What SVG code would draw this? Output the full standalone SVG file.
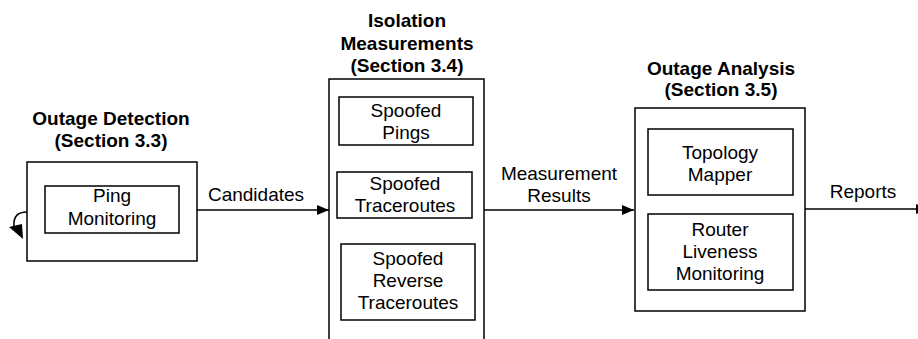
<svg xmlns="http://www.w3.org/2000/svg" width="918" height="339" viewBox="0 0 918 339">
<defs>
<marker id="ah" markerWidth="12" markerHeight="10" refX="12" refY="5" orient="auto" markerUnits="userSpaceOnUse">
<path d="M0,0 L12,5 L0,10 Z" fill="#000"/>
</marker>
<style>
.box{fill:#fff;stroke:#000;stroke-width:1.5}
.t{font-family:"Liberation Sans",Arial,sans-serif;font-size:19px;fill:#000;text-anchor:middle}
.b{font-weight:bold}
.c{fill:none;stroke:#000;stroke-width:1.5}
</style>
</defs>
<rect width="918" height="339" fill="#fff"/>
<g id="outage-detection">
<text class="t b" x="111" y="125">Outage Detection</text>
<text class="t b" x="111" y="147">(Section 3.3)</text>
<rect class="box" x="27" y="162" width="170" height="99"/>
<g id="ping-monitoring">
<rect class="box" x="45" y="186" width="134" height="47"/>
<text class="t" x="112" y="202">Ping</text>
<text class="t" x="112" y="225">Monitoring</text>
</g>
</g>
<g id="isolation-measurements">
<text class="t b" x="407" y="27">Isolation</text>
<text class="t b" x="407" y="50">Measurements</text>
<text class="t b" x="407" y="72">(Section 3.4)</text>
<rect class="box" x="329" y="79" width="155" height="270"/>
<g id="spoofed-pings">
<rect class="box" x="339" y="97" width="134" height="48"/>
<text class="t" x="406" y="117">Spoofed</text>
<text class="t" x="406" y="139">Pings</text>
</g>
<g id="spoofed-traceroutes">
<rect class="box" x="337" y="172" width="135" height="46"/>
<text class="t" x="405" y="190">Spoofed</text>
<text class="t" x="405" y="212">Traceroutes</text>
</g>
<g id="spoofed-reverse-traceroutes">
<rect class="box" x="341" y="244" width="134" height="76"/>
<text class="t" x="408" y="265">Spoofed</text>
<text class="t" x="408" y="287">Reverse</text>
<text class="t" x="408" y="309">Traceroutes</text>
</g>
</g>
<g id="outage-analysis">
<text class="t b" x="721" y="75">Outage Analysis</text>
<text class="t b" x="721" y="96">(Section 3.5)</text>
<rect class="box" x="635" y="108" width="170" height="203"/>
<g id="topology-mapper">
<rect class="box" x="648" y="129" width="145" height="66"/>
<text class="t" x="720" y="159">Topology</text>
<text class="t" x="720" y="181">Mapper</text>
</g>
<g id="router-liveness">
<rect class="box" x="648" y="214" width="145" height="76"/>
<text class="t" x="720" y="236">Router</text>
<text class="t" x="720" y="258">Liveness</text>
<text class="t" x="720" y="280">Monitoring</text>
</g>
</g>
<g id="connectors">
<line class="c" x1="197" y1="210" x2="329" y2="210" marker-end="url(#ah)"/>
<text class="t" x="256" y="201">Candidates</text>
<line class="c" x1="484" y1="210" x2="634" y2="210" marker-end="url(#ah)"/>
<text class="t" x="559" y="180">Measurement</text>
<text class="t" x="559" y="202">Results</text>
<line class="c" x1="805" y1="209" x2="928" y2="209" marker-end="url(#ah)"/>
<text class="t" x="863" y="198">Reports</text>
<path class="c" d="M27,212 C18,212 13,216 14,227"/>
<path d="M9,227 L22,224 L23,239 Z" fill="#000"/>
</g>
</svg>
